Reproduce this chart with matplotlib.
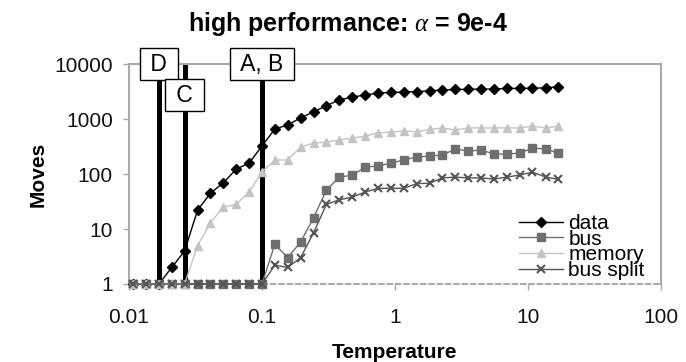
import matplotlib
matplotlib.use("Agg")
import matplotlib.pyplot as plt

plt.rcParams['font.family'] = ['Liberation Sans', 'DejaVu Sans']
plt.rcParams['mathtext.fontset'] = 'custom'
plt.rcParams['mathtext.it'] = 'Liberation Serif:italic'

# temperature steps
temperature = [0.0107, 0.0134, 0.0168, 0.021, 0.0262, 0.0328, 0.041, 0.0512,
               0.064, 0.08, 0.1, 0.125, 0.156, 0.195, 0.244, 0.305, 0.381,
               0.477, 0.596, 0.745, 0.931, 1.16, 1.46, 1.82, 2.27, 2.84, 3.55,
               4.44, 5.55, 6.94, 8.67, 10.8, 13.6, 16.9]

data_moves = [1, 1, 1, 2, 4, 22, 45, 69, 123, 158, 323,
              660, 780, 1050, 1350, 1750, 2230, 2500, 2750, 2950, 3050,
              3100, 3150, 3270, 3370, 3450, 3470, 3510, 3510, 3610, 3610, 3620, 3710, 3860]
bus_moves = [1, 1, 1, 1, 1, 1, 1, 1, 1, 1, 1,
             5.3, 3, 5.8, 16, 51, 88, 95, 134, 140, 158,
             180, 204, 212, 221, 285, 262, 273, 231, 231, 240, 297, 285, 240]
memory_moves = [1, 1, 1, 1, 1, 5, 13, 25, 28, 47, 110,
                180, 180, 310, 365, 380, 415, 450, 490, 560, 580,
                605, 590, 650, 690, 630, 690, 690, 690, 690, 690, 745, 690, 745]
bus_split_moves = [1, 1, 1, 1, 1, 1, 1, 1, 1, 1, 1,
                   2.2, 2, 3, 8.5, 28, 34, 38, 47, 55, 55,
                   55, 67, 68, 85, 88, 85, 85, 81, 88, 96, 108, 88, 80]

# marked temperatures and their labels
mark_temps = [0.0168, 0.0262, 0.1]
mark_labels = [" D ", " C ", " A, B "]
mark_label_y = [10000, 2700, 10000]

fig = plt.figure(figsize=(6.86, 3.62), dpi=100)
ax = fig.add_axes([0.188, 0.2155, 0.7756, 0.6075])

for t in mark_temps:
    ax.axvline(t, color='black', lw=3.6, zorder=1)

ax.plot(temperature, data_moves, color='black', marker='D', ms=5, lw=1,
        label='data', clip_on=False, zorder=3)
ax.plot(temperature, bus_moves, color='#6f6f6f', marker='s', ms=5.5, lw=1,
        label='bus', clip_on=False, zorder=3)
ax.plot(temperature, memory_moves, color='#c4c4c4', marker='^', ms=6, lw=1,
        label='memory', clip_on=False, zorder=3)
ax.plot(temperature, bus_split_moves, color='#555555', marker='x', ms=6, mew=1.5,
        lw=1, label='bus split', clip_on=False, zorder=4)

for t, lab, y in zip(mark_temps, mark_labels, mark_label_y):
    ax.text(t, y, lab, ha='center', va='center', fontsize=16.5, zorder=6,
            bbox=dict(boxstyle='square,pad=0.2', fc='white', ec='black', lw=1))

ax.set_xscale('log')
ax.set_yscale('log')
ax.set_xlim(0.01, 100)
ax.set_ylim(1, 10000)
ax.set_xticks([0.01, 0.1, 1, 10, 100])
ax.set_xticklabels(['0.01', '0.1', '1', '10', '100'])
ax.set_yticks([1, 10, 100, 1000, 10000])
ax.set_yticklabels(['1', '10', '100', '1000', '10000'])
ax.minorticks_off()
ax.tick_params(axis='both', labelsize=15, colors='#aaaaaa', labelcolor='#111111',
               length=4, width=1)
ax.tick_params(axis='x', pad=13.5)
ax.tick_params(axis='y', pad=7.5)

for s in ['left', 'top', 'right']:
    ax.spines[s].set_color('#aaaaaa')
    ax.spines[s].set_linewidth(1.5)
ax.spines['bottom'].set_color('#999999')
ax.spines['bottom'].set_linestyle((0, (3, 2)))
ax.spines['bottom'].set_linewidth(1.2)

ax.set_xlabel('Temperature', fontsize=15, fontweight='bold', labelpad=11)
ax.set_ylabel('Moves', fontsize=15, fontweight='bold', labelpad=5)
fig.text(0.507, 0.935, r'high performance: $\alpha$ = 9e-4', ha='center',
         va='center', fontsize=18, fontweight='bold')

ax.legend(loc='lower right', bbox_to_anchor=(0.985, -0.02), frameon=False,
          fontsize=15, handlelength=2.1, handletextpad=0.25, labelspacing=-0.16,
          borderaxespad=0)

fig.savefig('out.png', dpi=100)
